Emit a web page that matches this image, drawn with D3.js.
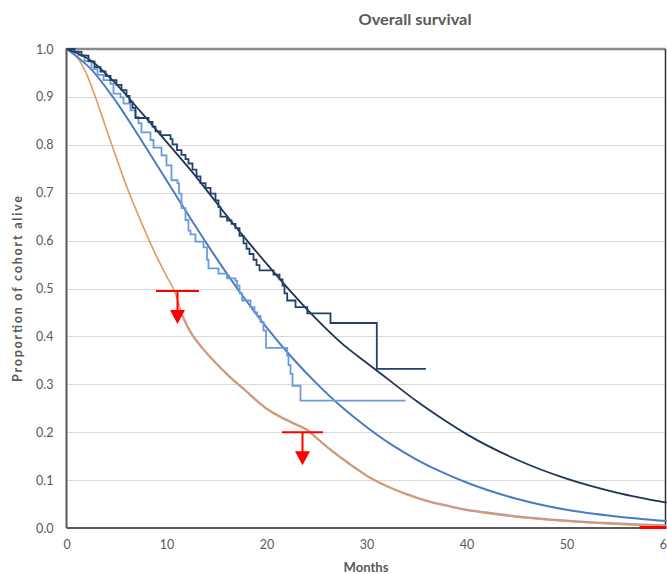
<!DOCTYPE html>
<html>
<head>
<meta charset="utf-8">
<script src="https://cdn.jsdelivr.net/npm/d3@7/dist/d3.min.js"></script>
<style>
  html, body { margin: 0; padding: 0; background: #ffffff; }
  svg { display: block; }
</style>
</head>
<body>
<svg id="chart" width="667" height="574"></svg>
<script>
// ---------- data ----------
const chartTitle = "Overall survival";
const xLabel = "Months";
const yLabel = "Proportion of cohort alive";
const xTicks = [0, 10, 20, 30, 40, 50, 60];
const yTicks = [0, 0.1, 0.2, 0.3, 0.4, 0.5, 0.6, 0.7, 0.8, 0.9, 1.0];

// Kaplan-Meier step curve, arm A (dark navy): [month, survival]
const darkStep = [
  [0,1.0],[0.8,0.994],[1.5,0.986],[2.2,0.974],[2.8,0.962],[3.4,0.953],[3.9,0.944],
  [4.4,0.935],[5.0,0.925],[5.5,0.914],[6.0,0.902],[6.3,0.889],[6.6,0.877],[6.9,0.856],
  [8.2,0.848],[8.6,0.838],[8.9,0.828],[9.4,0.82],[10.4,0.812],[10.6,0.801],[11.05,0.789],
  [11.5,0.779],[11.9,0.77],[12.2,0.761],[12.6,0.748],[13.0,0.734],[13.4,0.72],[13.9,0.71],
  [14.4,0.698],[14.9,0.684],[15.2,0.67],[15.4,0.65],[16.06,0.642],[16.5,0.635],[16.9,0.626],
  [17.3,0.61],[17.7,0.594],[18.0,0.583],[18.3,0.572],[18.7,0.56],[19.0,0.549],[19.3,0.538],
  [20.7,0.529],[21.3,0.519],[21.6,0.506],[21.8,0.49],[22.07,0.475],[22.9,0.461],
  [24.08,0.448],[26.4,0.428],[31.03,0.332],[35.94,0.332]
];

// Kaplan-Meier step curve, arm B (light blue)
const lightStep = [
  [0,1.0],[0.6,0.995],[1.2,0.987],[1.8,0.975],[2.5,0.958],[3.1,0.946],[3.7,0.935],
  [4.4,0.927],[4.7,0.907],[5.4,0.899],[5.7,0.886],[6.4,0.872],[6.9,0.858],[7.2,0.845],
  [7.5,0.826],[8.4,0.81],[8.7,0.794],[9.5,0.778],[10.0,0.757],[10.5,0.726],[11.1,0.72],
  [11.25,0.698],[11.5,0.668],[11.9,0.643],[12.2,0.621],[12.4,0.613],[12.9,0.598],
  [13.7,0.586],[14.05,0.56],[14.2,0.542],[15.2,0.531],[16.06,0.521],[16.9,0.516],
  [17.06,0.506],[17.3,0.49],[17.56,0.475],[18.4,0.461],[18.8,0.45],[19.07,0.443],
  [19.4,0.43],[19.7,0.412],[19.95,0.376],[22.07,0.36],[22.2,0.34],[22.4,0.322],
  [22.6,0.297],[23.4,0.266],[33.9,0.266]
];

// Fitted smooth curve, arm A (dark navy)
const darkFitMonths = [0,2.5,5,7.5,10,12.5,15,17.5,20,22.5,25,27.5,30,32.5,35,37.5,40,45,50,55,60];
const darkFitValues = [1.0,0.975,0.926,0.867,0.806,0.745,0.679,0.614,0.552,0.492,0.436,0.386,0.345,0.305,0.265,0.229,0.196,0.143,0.103,0.074,0.053];

// Fitted smooth curve, arm B (medium blue)
const blueFitMonths = [0,2.5,5,7.5,10,12.5,15,17.5,20,22.5,25,27.5,30,32.5,35,37.5,40,45,50,55,60];
const blueFitValues = [1.0,0.957,0.889,0.809,0.726,0.643,0.563,0.488,0.419,0.357,0.302,0.253,0.211,0.174,0.143,0.117,0.095,0.061,0.038,0.024,0.0145];

// Modelled comparator curve (orange)
const orangeMonths = [0,1,2,3,4,5,6,7,8,9,10,10.9,11.5,12.4,13.7,15,16.4,18,19,20,21,22,23,24.1,25,26.4,28.4,30,32,34,36,38,40,42,45,50,55,60];
const orangeValues = [1.0,0.985,0.948,0.893,0.832,0.772,0.714,0.662,0.613,0.567,0.526,0.489,0.449,0.41,0.373,0.343,0.314,0.285,0.266,0.249,0.236,0.225,0.215,0.204,0.188,0.163,0.132,0.109,0.087,0.07,0.056,0.046,0.037,0.031,0.023,0.014,0.008,0.004];
const overlayStart = 11; // second (lavender) series follows orange from here

// Red threshold markers
const markerMonths = [11.1, 23.6];
const markerValues = [0.495, 0.2];
const markerHalfWidth = [2.15, 2.05];
const redTailMonths = [57.3, 60];

// ---------- layout ----------
const svg = d3.select("#chart");
const W = 667, H = 574;
const mLeft = 66.5, mRight = 665.5, mTop = 49, mBottom = 528;
const font = "Lato, 'Open Sans', 'DejaVu Sans', sans-serif";

const x = d3.scaleLinear().domain([0, 60]).range([mLeft, 666.5]);
const y = d3.scaleLinear().domain([0, 1]).range([mBottom, mTop]);

svg.append("rect").attr("width", W).attr("height", H).attr("fill", "#fff");

// gridlines
svg.append("g")
  .selectAll("line")
  .data(yTicks.filter(v => v > 0 && v < 1))
  .join("line")
  .attr("x1", mLeft).attr("x2", mRight)
  .attr("y1", d => Math.round(y(d)) + 0.5).attr("y2", d => Math.round(y(d)) + 0.5)
  .attr("stroke", "#d9d9d9").attr("stroke-width", 1);

// y-axis tick labels
const yAxis = d3.axisLeft(y).tickValues(yTicks).tickFormat(d3.format(".1f")).tickSize(0).tickPadding(13);
const gy = svg.append("g").attr("transform", `translate(${mLeft},0)`).call(yAxis);
gy.select(".domain").remove();
gy.selectAll("text").attr("fill", "#595959").style("font-family", font).style("font-size", "12.5px");

// x-axis tick labels
const xAxis = d3.axisBottom(x).tickValues(xTicks).tickFormat(d3.format("d")).tickSize(0).tickPadding(12);
const gx = svg.append("g").attr("transform", `translate(0,${mBottom})`).call(xAxis);
gx.select(".domain").remove();
gx.selectAll("text").attr("fill", "#595959").style("font-family", font).style("font-size", "12.5px");

// plot frame
svg.append("line").attr("x1", mLeft).attr("x2", mRight).attr("y1", mTop).attr("y2", mTop)
  .attr("stroke", "#898989").attr("stroke-width", 2.5);
svg.append("line").attr("x1", mRight).attr("x2", mRight).attr("y1", mTop).attr("y2", mBottom)
  .attr("stroke", "#333333").attr("stroke-width", 1.5);

// curves
const stepLine = d3.line().x(d => x(d[0])).y(d => y(d[1])).curve(d3.curveStepAfter);
const smoothLine = d3.line().x(d => x(d[0])).y(d => y(d[1])).curve(d3.curveMonotoneX);

const orangeData = orangeMonths.map((m, i) => [m, orangeValues[i]]);
svg.append("path").datum(orangeData.filter(d => d[0] >= overlayStart))
  .attr("d", smoothLine).attr("fill", "none")
  .attr("stroke", "#a09cc4").attr("stroke-width", 2.2)
  .attr("transform", "translate(-0.7,-0.7)");
svg.append("path").datum(orangeData)
  .attr("d", smoothLine).attr("fill", "none")
  .attr("stroke", "#e49a5e").attr("stroke-width", 1.6);

svg.append("path").datum(blueFitMonths.map((m, i) => [m, blueFitValues[i]]))
  .attr("d", smoothLine).attr("fill", "none")
  .attr("stroke", "#4a7cc6").attr("stroke-width", 2);

svg.append("path").datum(lightStep)
  .attr("d", stepLine).attr("fill", "none")
  .attr("stroke", "#6b9bd6").attr("stroke-width", 1.8);

svg.append("path").datum(darkFitMonths.map((m, i) => [m, darkFitValues[i]]))
  .attr("d", smoothLine).attr("fill", "none")
  .attr("stroke", "#1f3557").attr("stroke-width", 1.8);

svg.append("path").datum(darkStep)
  .attr("d", stepLine).attr("fill", "none")
  .attr("stroke", "#22406a").attr("stroke-width", 1.8);

// axis lines (left and bottom) on top
svg.append("line").attr("x1", mLeft).attr("x2", mLeft).attr("y1", mTop - 1).attr("y2", mBottom)
  .attr("stroke", "#595959").attr("stroke-width", 2);
svg.append("line").attr("x1", mLeft).attr("x2", mRight).attr("y1", mBottom).attr("y2", mBottom)
  .attr("stroke", "#595959").attr("stroke-width", 2);

// red threshold markers
const red = "#ff0000";
const mk = svg.append("g");
markerMonths.forEach((m, i) => {
  const v = markerValues[i];
  const cx = x(m), cy = y(v);
  mk.append("line").attr("x1", x(m - markerHalfWidth[i])).attr("x2", x(m + markerHalfWidth[i]))
    .attr("y1", cy).attr("y2", cy).attr("stroke", red).attr("stroke-width", 2);
  const tip = cy + 33;
  mk.append("line").attr("x1", cx).attr("x2", cx).attr("y1", cy).attr("y2", tip - 12)
    .attr("stroke", red).attr("stroke-width", 2);
  mk.append("path")
    .attr("d", `M${cx - 7.5},${tip - 14} L${cx + 7.5},${tip - 14} L${cx},${tip} Z`)
    .attr("fill", red);
});
svg.append("line").attr("x1", x(redTailMonths[0])).attr("x2", x(redTailMonths[1]))
  .attr("y1", y(0) - 0.5).attr("y2", y(0) - 0.5).attr("stroke", red).attr("stroke-width", 3);

// titles
svg.append("text").attr("x", 415).attr("y", 25).attr("text-anchor", "middle")
  .attr("fill", "#595959").style("font-family", font).style("font-weight", "bold").style("font-size", "15.5px")
  .attr("textLength", 113).attr("lengthAdjust", "spacingAndGlyphs")
  .text(chartTitle);
svg.append("text").attr("x", 366).attr("y", 571.5).attr("text-anchor", "middle")
  .attr("fill", "#595959").style("font-family", font).style("font-weight", "bold").style("font-size", "12.5px")
  .attr("textLength", 45).attr("lengthAdjust", "spacingAndGlyphs")
  .text(xLabel);
svg.append("text").attr("transform", "translate(22,289) rotate(-90)").attr("text-anchor", "middle")
  .attr("fill", "#595959").style("font-family", font).style("font-weight", "bold").style("font-size", "12.5px")
  .attr("textLength", 186).attr("lengthAdjust", "spacing")
  .text(yLabel);
</script>
</body>
</html>
